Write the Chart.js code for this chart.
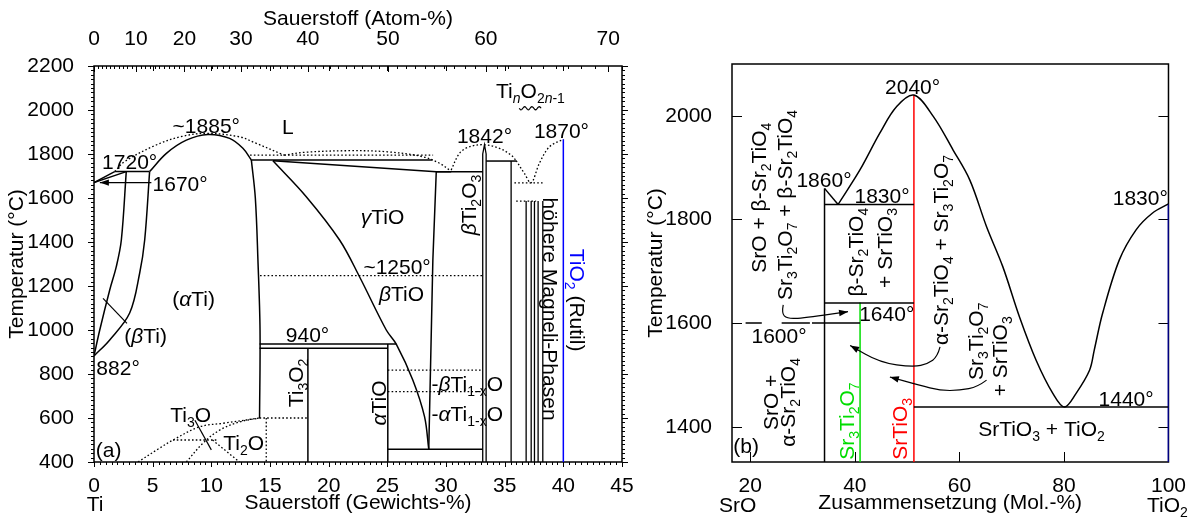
<!DOCTYPE html>
<html>
<head>
<meta charset="utf-8">
<title>Ti–O und SrO–TiO2</title>
<script src="https://cdn.jsdelivr.net/npm/chart.js@4.4.1/dist/chart.umd.min.js"></script>
<style>
  html, body { margin: 0; background: #fff; }
  #left { position: absolute; left: 0; top: 0; }
  #right { position: absolute; left: 640px; top: 0; }
</style>
</head>
<body>
<canvas id="left" width="640" height="521"></canvas>
<canvas id="right" width="550" height="521"></canvas>
<script>
// ---- (a) Ti–O, Sauerstoff in Gew.-%, Temperatur in °C ----
const wtTicks = [0, 5, 10, 15, 20, 25, 30, 35, 40, 45];
const atomTicks = [0, 10, 20, 30, 40, 50, 60, 70];
const tempTicksA = [400, 600, 800, 1000, 1200, 1400, 1600, 1800, 2000, 2200];

const betaTransus = [[0, 882], [0.49, 1000], [1.34, 1182], [1.9, 1288], [2.33, 1409], [2.75, 1720]];
const alphaTransus = [[0, 882], [1.34, 955], [3.04, 1077], [3.89, 1258], [4.32, 1409], [4.74, 1720]];
const betaLiquidus = [[0, 1670], [1.76, 1720]];
const betaSolidus = [[0, 1670], [2.75, 1720]];
const peritectic1720 = [[1.76, 1720], [4.74, 1720]];
const alphaLiquidus = [[4.74, 1720], [6.17, 1803], [7.87, 1863], [9.71, 1889], [11.56, 1871], [12.69, 1826], [13.41, 1773]];
const liquidusDotted1 = [[1.76, 1720], [2.6, 1765], [5.3, 1841], [7.5, 1880], [9.6, 1894], [12.4, 1878], [13.8, 1849], [16.2, 1795]];
const liquidusDotted2 = [[16.2, 1795], [18, 1808], [21.8, 1815], [25, 1810], [28, 1788], [29.45, 1758], [30.44, 1722]];
const dotted1795 = [[13.3, 1795], [28.9, 1795]];
const peritectic1770 = [[13.41, 1773], [28.85, 1773]];
const gammaSolidus = [[15.25, 1769], [29.17, 1719], [30.44, 1719]];
const eutectic1720 = [[29.17, 1719], [33.13, 1719]];
const alphaSolvus = [[13.41, 1773], [13.75, 1600], [13.97, 1320], [14.15, 1000], [14.11, 600]];
const gammaTiOLeft = [[15.25, 1769], [18.09, 1606], [20.93, 1409], [22.63, 1242], [24.91, 1000], [25.76, 936], [27.17, 773], [28.17, 606], [28.53, 458]];
const gammaTiORight = [[29.17, 1719], [28.88, 1318], [28.53, 458]];
const line940 = [[14.11, 936], [25.76, 936]];
const line920 = [[14.11, 917], [25.04, 917]];
const ti3o2Line = [[18.23, 917], [18.23, 400]];
const alphaTiOLine = [[25.04, 936], [25.04, 400]];
const line460 = [[25.04, 458], [33.13, 458]];
const dotted1250 = [[14.15, 1247], [33.13, 1247]];
const dotted820 = [[25.04, 818], [33.13, 818]];
const dotted720 = [[25.04, 720], [33.13, 720]];
const ti2o3Lines = [[33.13, 400], [33.13, 1800], [33.28, 1842], [33.42, 1800], [33.42, 400]];
const line1768 = [[33.42, 1768], [35.98, 1768]];
const dome1842 = [[30.44, 1727], [31.15, 1803], [32.0, 1833], [33.28, 1842], [34.56, 1826], [35.55, 1795], [35.98, 1770]];
const dome1870 = [[35.98, 1770], [36.68, 1712], [37.26, 1669], [37.96, 1758], [38.82, 1833], [40, 1867]];
const dotted1670 = [[35.83, 1669], [38.25, 1669]];
const dotted1590 = [[35.98, 1586], [37.68, 1586]];
const magneliX = [35.55, 36.83, 37.26, 37.54, 37.85, 38.25];
const magneliTop = [1768, 1586, 1586, 1586, 1586, 1586];
const rutileLine = [[40, 1867], [40, 400]];
const ti3oBoundary = [[3.75, 400], [5.5, 460], [6.73, 500], [9.0, 560], [10.99, 576], [14.11, 600]];
const ti2oBoundary = [[7.87, 400], [9.28, 485], [10.71, 545], [12.4, 582], [14.11, 600]];
const dotted500 = [[6.73, 500], [10.5, 500]];
const dottedDiag = [[10.1, 500], [12.4, 400]];
const dottedVert = [[14.68, 600], [14.68, 400]];
const dotted600 = [[14.11, 600], [18.23, 600]];

// ---- (b) SrO–TiO2, Mol.-% TiO2 ----
const molTicks = [20, 40, 60, 80, 100];
const tempTicksB = [1400, 1600, 1800, 2000];

const liquidus1860 = [[34.2, 1860], [36.8, 1829]];
const liquidusMain = [[36.8, 1829], [41.0, 1896], [44.8, 1967], [48.0, 2018], [51.3, 2040], [55.0, 1999], [58.8, 1934],
  [62.0, 1876], [65.2, 1786], [68.3, 1709], [71.5, 1612], [74.7, 1528], [77.9, 1464], [80.1, 1438],
  [82.3, 1464], [84.9, 1509], [85.8, 1548], [87.4, 1619], [90.6, 1722], [93.8, 1780], [96.9, 1812], [100, 1830]];
const sr2tio4Line = [[34.2, 1860], [34.2, 1332]];
const sr3ti2o7Line = [[41.0, 1640], [41.0, 1332]];
const srtio3Line = [[51.3, 2040], [51.3, 1332]];
const tio2Line = [[100, 1830], [100, 1332]];
const line1830 = [[34.2, 1829], [51.3, 1829]];
const line1640 = [[34.2, 1639], [51.3, 1639]];
const line1600 = [[19.1, 1600], [22.2, 1600], null, [26.0, 1600], [31.4, 1600], null, [31.8, 1600], [41.0, 1600]];
const eutectic1440 = [[51.3, 1438], [100, 1438]];

const BLUE = '#0000ff', RED = '#ff0000', GREEN = '#00dd00';
const FONT = '"Liberation Sans", Arial, sans-serif';
Chart.defaults.font.family = FONT;
Chart.defaults.color = '#000';

// Atom-% O -> Gew.-% O (Ti 47.867, O 16)
const atToWt = a => 100 * a * 16 / (a * 16 + (100 - a) * 47.867);
const steps = (a, b, s) => { const r = []; for (let v = a; v <= b + 1e-9; v += s) r.push(+v.toFixed(3)); return r; };

function pts(arr) {
  let last = 0;
  return arr.map(p => {
    if (!p) return { x: last, y: null };
    last = p[0];
    return { x: p[0], y: p[1] };
  });
}
function ln(data, o = {}) {
  return {
    data: pts(data),
    borderColor: o.color || '#000',
    borderWidth: o.w || (o.dash ? 1.3 : 1.5),
    borderDash: o.dash ? [1.6, 2.2] : [],
    tension: o.curve ? 0.35 : 0,
    pointRadius: 0,
    fill: false,
    spanGaps: false
  };
}

function parseRich(s) {
  const segs = []; let sub = false, it = false, buf = '';
  const push = () => { if (buf) { segs.push({ t: buf, sub, it }); buf = ''; } };
  for (let i = 0; i < s.length; i++) {
    const c = s[i];
    if (c === '_' && s[i + 1] === '{') { push(); sub = true; i++; continue; }
    if (c === '}' && sub) { push(); sub = false; continue; }
    if (c === '*') { push(); it = !it; continue; }
    buf += c;
  }
  push();
  return segs;
}

function drawRich(ctx, lab, px, py) {
  const size = lab.size || 21, subSize = 14;
  const parts = lab.parts || [{ s: lab.t, color: lab.color }];
  const segs = [];
  parts.forEach(p => parseRich(p.s).forEach(g => segs.push({ ...g, color: p.color || lab.color || '#000' })));
  let w = 0;
  segs.forEach(g => {
    ctx.font = (g.it ? 'italic ' : '') + (g.sub ? subSize : size) + 'px ' + FONT;
    g.w = ctx.measureText(g.t).width; w += g.w;
  });
  ctx.save();
  ctx.translate(px, py);
  if (lab.rot) ctx.rotate(lab.rot * Math.PI / 180);
  let cx = lab.align === 'left' ? 0 : lab.align === 'right' ? -w : -w / 2;
  ctx.textAlign = 'left'; ctx.textBaseline = 'alphabetic';
  const base = size * 0.36;
  segs.forEach(g => {
    ctx.font = (g.it ? 'italic ' : '') + (g.sub ? subSize : size) + 'px ' + FONT;
    ctx.fillStyle = g.color;
    ctx.fillText(g.t, cx, base + (g.sub ? 5 : 0));
    cx += g.w;
  });
  ctx.restore();
}

function decor(spec) {
  return {
    id: 'decor',
    beforeDatasetsDraw(chart) {
      const { ctx, chartArea: a, scales: { x, y } } = chart;
      ctx.save();
      ctx.strokeStyle = '#000';
      ctx.lineWidth = 1;
      spec.ticks.forEach(t => t.values.forEach(v => {
        const d = t.out ? 1 : -1;
        ctx.beginPath();
        if (t.side === 'left' || t.side === 'right') {
          const p = Math.round(y.getPixelForValue(v)) + 0.5;
          const x0 = t.side === 'left' ? a.left : a.right;
          const s = (t.side === 'left' ? -1 : 1) * d;
          ctx.moveTo(x0, p); ctx.lineTo(x0 + s * t.len, p);
        } else {
          const p = Math.round(x.getPixelForValue(v)) + 0.5;
          const y0 = t.side === 'top' ? a.top : a.bottom;
          const s = (t.side === 'top' ? -1 : 1) * d;
          ctx.moveTo(p, y0); ctx.lineTo(p, y0 + s * t.len);
        }
        ctx.stroke();
      }));
      ctx.lineWidth = spec.frame;
      ctx.strokeRect(a.left, a.top, a.right - a.left, a.bottom - a.top);
      ctx.restore();
    },
    afterDatasetsDraw(chart) {
      const { ctx, scales: { x, y } } = chart;
      const P = p => [x.getPixelForValue(p[0]), y.getPixelForValue(p[1])];
      ctx.save();
      ctx.strokeStyle = '#000'; ctx.fillStyle = '#000'; ctx.lineWidth = 1.2;
      (spec.pointers || []).forEach(ar => {
        const q = ar.pts.map(P);
        ctx.beginPath();
        ctx.moveTo(q[0][0], q[0][1]);
        for (let i = 1; i < q.length - 1; i++) {
          ctx.quadraticCurveTo(q[i][0], q[i][1], (q[i][0] + q[i + 1][0]) / 2, (q[i][1] + q[i + 1][1]) / 2);
        }
        const e = q[q.length - 1], s = q[q.length - 2];
        ctx.lineTo(e[0], e[1]);
        ctx.stroke();
        if (ar.head) {
          const ang = Math.atan2(e[1] - s[1], e[0] - s[0]);
          const c = Math.cos(ang), sn = Math.sin(ang);
          ctx.beginPath();
          ctx.moveTo(e[0], e[1]);
          ctx.lineTo(e[0] - 9 * c - 3.2 * sn, e[1] - 9 * sn + 3.2 * c);
          ctx.lineTo(e[0] - 9 * c + 3.2 * sn, e[1] - 9 * sn - 3.2 * c);
          ctx.closePath();
          ctx.fill();
        }
      });
      (spec.waves || []).forEach(wv => {
        const a = P(wv.from), b = P(wv.to);
        ctx.beginPath();
        for (let i = 0; i <= 40; i++) {
          const t = i / 40;
          const xx = a[0] + (b[0] - a[0]) * t, yy = a[1] + 1.6 * Math.sin(t * wv.n * 2 * Math.PI);
          i ? ctx.lineTo(xx, yy) : ctx.moveTo(xx, yy);
        }
        ctx.stroke();
      });
      spec.labels.forEach(l => {
        const [px, py] = P([l.x, l.y]);
        drawRich(ctx, l, px, py);
      });
      ctx.restore();
    }
  };
}

const tickFont = { size: 21, lineHeight: 1.2 };
const noGrid = { display: false };
const noBorder = { display: false };

// ---------- Chart (a) ----------
const datasetsA = [
  ln(betaTransus, { curve: true }), ln(alphaTransus, { curve: true }),
  ln(betaLiquidus), ln(betaSolidus), ln(peritectic1720),
  ln(alphaLiquidus, { curve: true }),
  ln(liquidusDotted1, { dash: true, curve: true }), ln(liquidusDotted2, { dash: true, curve: true }),
  ln(dotted1795, { dash: true }),
  ln(peritectic1770), ln(gammaSolidus), ln(eutectic1720),
  ln(alphaSolvus, { curve: true }), ln(gammaTiOLeft, { curve: true }), ln(gammaTiORight),
  ln(line940), ln(line920), ln(ti3o2Line), ln(alphaTiOLine), ln(line460),
  ln(dotted1250, { dash: true }), ln(dotted820, { dash: true }), ln(dotted720, { dash: true }),
  ln(ti2o3Lines, { w: 1.3 }), ln(line1768),
  ln(dome1842, { dash: true, curve: true }), ln(dome1870, { dash: true, curve: true }),
  ln(dotted1670, { dash: true }), ln(dotted1590, { dash: true }),
  ...magneliX.map((mx, i) => ln([[mx, magneliTop[i]], [mx, 400]], { w: 1.3 })),
  ln(rutileLine, { color: BLUE }),
  ln(ti3oBoundary, { dash: true, curve: true }), ln(ti2oBoundary, { dash: true, curve: true }),
  ln(dotted500, { dash: true }), ln(dottedDiag, { dash: true }), ln(dottedVert, { dash: true }),
  ln(dotted600, { dash: true })
];

const labelsA = [
  { t: '~1885°', x: 9.57, y: 1932 },
  { t: 'L', x: 16.52, y: 1924 },
  { t: '1720°', x: 3.04, y: 1764 },
  { t: '1670°', x: 4.99, y: 1668, align: 'left' },
  { t: '*γ*TiO', x: 24.59, y: 1514 },
  { t: '~1250°', x: 25.83, y: 1291 },
  { t: '*β*TiO', x: 26.21, y: 1168 },
  { t: '*β*Ti_{2}O_{3}', x: 31.92, y: 1568, rot: -90 },
  { t: '1842°', x: 33.28, y: 1886 },
  { t: '1870°', x: 39.84, y: 1909 },
  { t: 'Ti_{*n*}O_{2*n*-1}', x: 37.2, y: 2091 },
  { t: 'höhere Magneli-Phasen', x: 38.9, y: 1095, rot: 90 },
  { parts: [{ s: 'TiO_{2}', color: BLUE }, { s: ' (Rutil)' }], x: 41.2, y: 1136, rot: 90 },
  { t: '(*α*Ti)', x: 8.49, y: 1145 },
  { t: '(*β*Ti)', x: 4.4, y: 977 },
  { t: '882°', x: 0.2, y: 832, align: 'left' },
  { t: '940°', x: 18.2, y: 982 },
  { t: 'Ti_{3}O_{2}', x: 17.18, y: 759, rot: -90 },
  { t: '*α*TiO', x: 24.25, y: 668, rot: -90 },
  { t: '-*β*Ti_{1-x}O', x: 28.77, y: 759, align: 'left' },
  { t: '-*α*Ti_{1-x}O', x: 28.77, y: 623, align: 'left' },
  { t: 'Ti_{3}O', x: 8.24, y: 618 },
  { t: 'Ti_{2}O', x: 12.75, y: 491 },
  { t: '(a)', x: 1.25, y: 455 },
  { t: 'Ti', x: 0.1, y: 213 }
];

new Chart(document.getElementById('left'), {
  type: 'line',
  data: { datasets: datasetsA },
  options: {
    responsive: false, animation: false, events: [],
    layout: { padding: { right: 18 } },
    plugins: { legend: { display: false }, tooltip: { enabled: false } },
    scales: {
      x: {
        type: 'linear', position: 'bottom', min: 0, max: 45,
        afterBuildTicks: s => { s.ticks = wtTicks.map(v => ({ value: v })); },
        afterFit: s => { s.height = 59; },
        ticks: { font: tickFont, padding: 4, autoSkip: false, maxRotation: 0, callback: v => String(v) },
        grid: noGrid, border: noBorder,
        title: { display: true, text: 'Sauerstoff (Gewichts-%)', font: tickFont, padding: { top: 0, bottom: 5 } }
      },
      x2: {
        type: 'linear', position: 'top', min: 0, max: 45,
        afterBuildTicks: s => { s.ticks = atomTicks.map(v => ({ value: atToWt(v) })); },
        afterFit: s => { s.height = 66; },
        ticks: { font: tickFont, padding: 6, autoSkip: false, maxRotation: 0, callback: (v, i) => String(atomTicks[i]) },
        grid: noGrid, border: noBorder,
        title: { display: true, text: 'Sauerstoff (Atom-%)', font: tickFont, padding: { top: 7, bottom: 0 } }
      },
      y: {
        type: 'linear', position: 'left', min: 400, max: 2200,
        afterBuildTicks: s => { s.ticks = tempTicksA.map(v => ({ value: v })); },
        afterFit: s => { s.width = 94; },
        ticks: { font: tickFont, padding: 12, callback: v => String(v) },
        grid: noGrid, border: noBorder,
        title: { display: true, text: 'Temperatur (°C)', font: tickFont, padding: { top: 5, bottom: 0 } }
      }
    }
  },
  plugins: [decor({
    frame: 1.5,
    ticks: [
      { side: 'left', values: tempTicksA, len: 6, out: true },
      { side: 'left', values: steps(400, 2200, 20), len: 3, out: true },
      { side: 'right', values: tempTicksA, len: 6, out: true },
      { side: 'right', values: steps(400, 2200, 20), len: 3, out: true },
      { side: 'bottom', values: wtTicks, len: 5, out: true },
      { side: 'bottom', values: steps(0, 45, 0.5), len: 3, out: true },
      { side: 'top', values: atomTicks.map(atToWt), len: 6, out: false },
      { side: 'top', values: wtTicks, len: 5, out: false },
      { side: 'top', values: steps(0, 71, 1).map(atToWt), len: 3, out: false }
    ],
    pointers: [
      { pts: [[4.89, 1670], [0.5, 1670]], head: true },
      { pts: [[0.77, 1144], [2.81, 1030]] },
      { pts: [[8.6, 590], [10.0, 455]] }
    ],
    waves: [{ from: [36.24, 2008], to: [38.1, 2008], n: 3 }],
    labels: labelsA
  })]
});

// ---------- Chart (b) ----------
const datasetsB = [
  ln(liquidus1860), ln(liquidusMain, { curve: true }),
  ln(sr2tio4Line), ln(line1830), ln(line1640), ln(line1600), ln(eutectic1440),
  ln(sr3ti2o7Line, { color: GREEN }), ln(srtio3Line, { color: RED }), ln(tio2Line, { color: BLUE })
];

const labelsB = [
  { t: '2040°', x: 51.05, y: 2056 },
  { t: '1860°', x: 34.1, y: 1878 },
  { t: '1830°', x: 45.2, y: 1847 },
  { t: '1830°', x: 94.6, y: 1843 },
  { t: '1440°', x: 91.9, y: 1455 },
  { t: 'SrTiO_{3} + TiO_{2}', x: 75.7, y: 1397 },
  { t: '1640°', x: 46.1, y: 1619 },
  { t: '1600°', x: 25.5, y: 1577 },
  { t: '(b)', x: 19.2, y: 1364 },
  { t: 'SrO + β-Sr_{2}TiO_{4}', x: 21.5, y: 1842, rot: -90 },
  { t: 'Sr_{3}Ti_{2}O_{7} + β-Sr_{2}TiO_{4}', x: 26.5, y: 1828, rot: -90 },
  { t: 'β-Sr_{2}TiO_{4}', x: 40.2, y: 1737, rot: -90 },
  { t: '+ SrTiO_{3}', x: 45.6, y: 1745, rot: -90 },
  { t: 'α-Sr_{2}TiO_{4} + Sr_{3}Ti_{2}O_{7}', x: 56.4, y: 1741, rot: -90 },
  { t: 'Sr_{3}Ti_{2}O_{7}', x: 63.1, y: 1565, rot: -90 },
  { t: '+ SrTiO_{3}', x: 67.7, y: 1536, rot: -90 },
  { t: 'SrO +', x: 23.8, y: 1447, rot: -90 },
  { t: 'α-Sr_{2}TiO_{4}', x: 27.2, y: 1447, rot: -90 },
  { t: 'Sr_{3}Ti_{2}O_{7}', x: 38.3, y: 1411, rot: -90, color: GREEN },
  { t: 'SrTiO_{3}', x: 48.6, y: 1396, rot: -90, color: RED },
  { t: 'SrO', x: 17.6, y: 1250 },
  { t: 'TiO_{2}', x: 99.8, y: 1250 }
];

new Chart(document.getElementById('right'), {
  type: 'line',
  data: { datasets: datasetsB },
  options: {
    responsive: false, animation: false, events: [],
    layout: { padding: { top: 64, right: 21 } },
    plugins: { legend: { display: false }, tooltip: { enabled: false } },
    scales: {
      x: {
        type: 'linear', position: 'bottom', min: 16.5, max: 100,
        afterBuildTicks: s => { s.ticks = molTicks.map(v => ({ value: v })); },
        afterFit: s => { s.height = 59; },
        ticks: { font: tickFont, padding: 4, autoSkip: false, maxRotation: 0, callback: v => String(v) },
        grid: noGrid, border: noBorder,
        title: { display: true, text: 'Zusammensetzung (Mol.-%)', font: tickFont, padding: { top: 0, bottom: 5 } }
      },
      y: {
        type: 'linear', position: 'left', min: 1332, max: 2100,
        afterBuildTicks: s => { s.ticks = tempTicksB.map(v => ({ value: v })); },
        afterFit: s => { s.width = 92; },
        ticks: { font: tickFont, padding: 12, callback: v => String(v) },
        grid: noGrid, border: noBorder,
        title: { display: true, text: 'Temperatur (°C)', font: tickFont, padding: { top: 4, bottom: 0 } }
      }
    }
  },
  plugins: [decor({
    frame: 1.5,
    ticks: [
      { side: 'left', values: tempTicksB, len: 10, out: false },
      { side: 'right', values: tempTicksB, len: 10, out: false },
      { side: 'bottom', values: molTicks.slice(0, 4), len: 10, out: false }
    ],
    pointers: [
      { pts: [[26.3, 1635], [26.0, 1619], [27.0, 1609], [29.5, 1609], [38.7, 1622]], head: true },
      { pts: [[56.3, 1554], [55.8, 1535], [54, 1522], [51.2, 1515], [44.8, 1524], [39.1, 1557]], head: true },
      { pts: [[65.2, 1490], [63.5, 1477], [60.1, 1470], [56.3, 1470], [52.4, 1480], [46.7, 1496]], head: true }
    ],
    labels: labelsB
  })]
});
</script>
</body>
</html>
